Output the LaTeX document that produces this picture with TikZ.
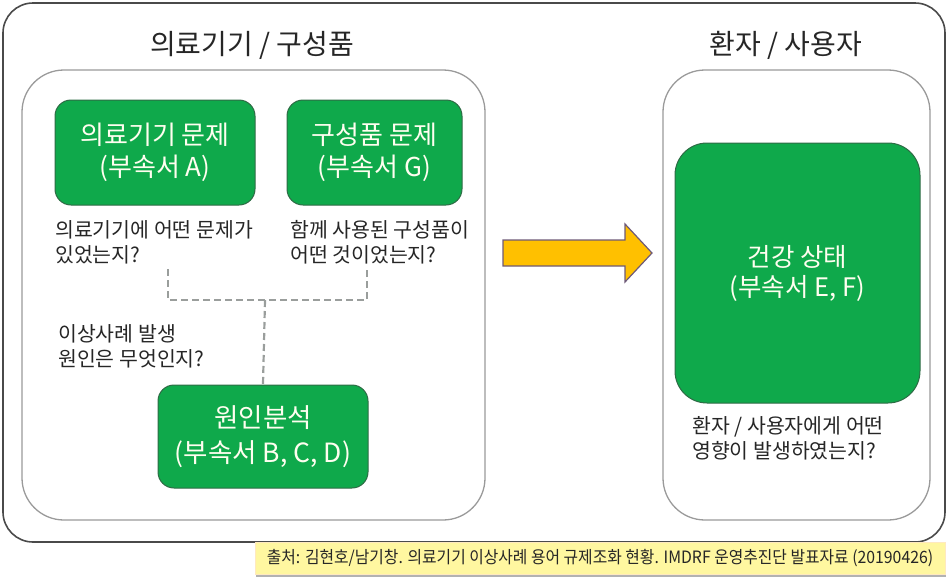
\documentclass[tikz,border=0pt]{standalone}
\usepackage{fontspec}
\usepackage{graphicx}
\setmainfont{Noto Sans CJK KR}
\usetikzlibrary{shadows}
\definecolor{frame}{HTML}{4A4A4A}
\definecolor{panel}{HTML}{9A9A9A}
\definecolor{gbox}{HTML}{0FA94B}
\definecolor{gborder}{HTML}{2E6B45}
\definecolor{txt}{HTML}{262626}
\definecolor{dashc}{HTML}{9A9E9C}
\definecolor{arrowfill}{HTML}{FFC000}
\definecolor{arrowline}{HTML}{6E5A78}
\definecolor{capfill}{HTML}{FFF7A0}
\tikzset{
  panelbox/.style={draw=panel, line width=1.3pt, rounded corners=42pt},
  greenbox/.style={draw=gborder, line width=1pt, fill=gbox, rounded corners=16pt, text=white!94!yellow, align=center, inner sep=0pt},
  labeltext/.style={text=txt, align=left, anchor=north west, inner sep=0pt, font=\fontsize{20.5}{25}\selectfont},
  titletext/.style={text=txt, font=\fontsize{28}{30}\selectfont, inner sep=0pt},
  dashline/.style={draw=dashc, line width=2.2pt, dash pattern=on 7pt off 4pt}
}
\begin{document}
\begin{tikzpicture}[x=1pt,y=-1pt]
\useasboundingbox (0,0) rectangle (951,582);
% outer frame
\draw[frame, line width=1.6pt, rounded corners=30pt] (3,3) rectangle (945,542);
% titles
\node[titletext] (t1) at (252,45) {의료기기 / 구성품};
\node[titletext] (t2) at (786,45) {환자 / 사용자};
% panels
\draw[panelbox] (22,70) rectangle (485,520);
\draw[panelbox] (663,70) rectangle (930,520);
% green boxes
\node[greenbox, minimum width=200pt, minimum height=105pt, font=\fontsize{26}{32}\selectfont] (A) at (155,152.5) {\raisebox{-3pt}{의료기기 문제}\\\raisebox{-3pt}{(부속서 A)}};
\node[greenbox, minimum width=175pt, minimum height=105pt, font=\fontsize{26}{32}\selectfont] (G) at (374.5,152.5) {\raisebox{-3pt}{구성품 문제}\\\raisebox{-3pt}{(부속서 G)}};
\node[greenbox, minimum width=210pt, minimum height=103pt, font=\fontsize{26.5}{35}\selectfont] (C) at (263,436.5) {원인분석\\(부속서 B, C, D)};
\node[greenbox, minimum width=245pt, minimum height=260pt, rounded corners=32pt, font=\fontsize{25.5}{30}\selectfont] (H) at (797.5,273) {\raisebox{-5pt}{건강 상태}\\\raisebox{-5pt}{(부속서 E, F)}};
% labels
\node[labeltext] (la) at (55,220) {의료기기에 어떤 문제가\\있었는지?};
\node[labeltext] (lg) at (290,220) {함께 사용된 구성품이\\어떤 것이었는지?};
\node[labeltext] (lc) at (58,324) {이상사례 발생\\원인은 무엇인지?};
\node[labeltext] (lh) at (692,416) {환자 / 사용자에게 어떤\\영향이 발생하였는지?};
% dashed connectors
\coordinate (d1) at (168,269);
\coordinate (d2) at (367,269);
\coordinate (dm) at (265,300);
\draw[dashline] (d1) |- (dm) -| (d2);
\draw[dashline] (dm) -- (C.north);
% big arrow
\draw[draw=arrowline, fill=arrowfill, line width=1.2pt, line join=miter]
  (503,240) -- (625,240) -- (625,224) -- (652,253) -- (625,282) -- (625,266) -- (503,266) -- cycle;
% caption
\node[draw=capfill!60!orange!40, fill=capfill, drop shadow={shadow xshift=1pt, shadow yshift=-3pt, fill=black!60}, minimum width=690pt, minimum height=32pt, inner sep=0pt, text=txt] (cap) at (600,558)
  {\scalebox{0.93}[1]{\fontsize{17}{20}\selectfont 출처: 김현호/남기창. 의료기기 이상사례 용어 규제조화 현황. IMDRF 운영추진단 발표자료 (20190426)}};
\end{tikzpicture}
\end{document}
